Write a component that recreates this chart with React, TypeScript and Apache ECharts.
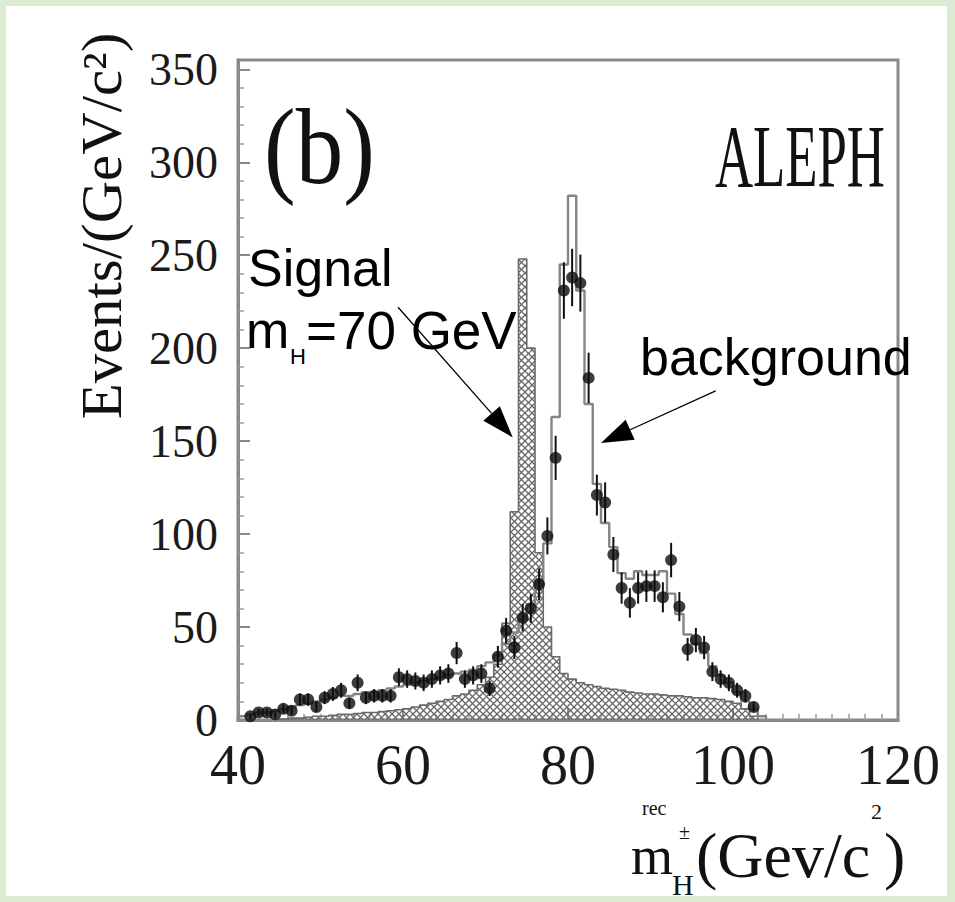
import React, { useEffect, useRef } from "react";
import * as echarts from "echarts";

// ---- histogram binning (GeV/c^2) ----
const BIN_WIDTH = 1;

// Simulated background, bins starting at 40 GeV/c^2
const backgroundStart = 40;
const backgroundCounts = [
  2, 3, 4, 4, 5, 6, 7, 8, 9, 10,
  11, 12, 13, 13, 14, 15, 15, 16, 17, 18,
  19, 20, 21, 22, 23, 24, 25, 26, 27, 29,
  31, 35, 41, 47, 54, 62, 75, 95, 163, 245,
  282, 231, 170, 127, 106, 93, 79, 76, 80, 78,
  78, 80, 68, 57, 46, 41, 36, 29, 24, 20,
  15, 10, 6, 2,
];

// Simulated charged Higgs signal (m_H = 70 GeV), bins starting at 45 GeV/c^2
const signalStart = 45;
const signalCounts = [
  0.5, 1, 1, 1.5, 2, 2, 2.5, 3, 3, 3.5,
  4, 4, 4.5, 5, 5.5, 6, 7, 8, 9, 10,
  11, 13, 14, 16, 19, 23, 30, 52, 112, 248,
  200, 90, 50, 34, 25, 22, 20, 19, 18, 17,
  16.5, 16, 15, 14.5, 14, 14, 13.5, 13, 13, 12.5,
  12, 12, 11.5, 11, 10, 9, 6, 2,
];

// Observed events, bin centres starting at 41.5 GeV/c^2
const dataStart = 41.5;
const dataCounts = [
  2, 4, 4, 3, 6, 5, 11, 11, 7, 12,
  14, 16, 9, 20, 12, 13, 13, 13, 23, 22,
  21, 20, 22, 24, 25, 36, 22, 24, 25, 17,
  34, 48, 39, 55, 60, 73, 99, 141, 231, 238,
  235, 184, 121, 117, 89, 71, 63, 71, 72, 72,
  66, 86, 61, 38, 43, 39, 26, 22, 20, 16,
  13, 7,
];

const xTicks = [40, 60, 80, 100, 120];
const yTicks = [0, 50, 100, 150, 200, 250, 300, 350];

const SERIF = "'Liberation Serif', 'DejaVu Serif', serif";
const SANS = "'Liberation Sans', Arial, sans-serif";

const HATCH_STEP = 7;
const HATCH_COLOR = "#666666";

// Histogram outline as a stepped polyline: [edge, value] pairs
function stepPoints(start: number, counts: number[]): number[][] {
  const pts: number[][] = [[start, 0]];
  counts.forEach((c, i) => pts.push([start + i * BIN_WIDTH, c]));
  pts.push([start + counts.length * BIN_WIDTH, 0]);
  return pts;
}

function hatchItem(params: any, api: any) {
  const lo = api.value(0);
  const v = api.value(1);
  const pBottom = api.coord([lo, 0]);
  const pTop = api.coord([lo + BIN_WIDTH, v]);
  const x0 = pBottom[0];
  const x1 = pTop[0];
  const y0 = pTop[1];
  const y1 = pBottom[1];
  const s = HATCH_STEP;
  const style = { stroke: HATCH_COLOR, lineWidth: 1.2 };
  const children: any[] = [];
  // lines falling to the right: y = x + c
  for (let c = Math.ceil((y0 - x1) / s) * s; c <= y1 - x0; c += s) {
    const xs = Math.max(x0, y0 - c);
    const xe = Math.min(x1, y1 - c);
    if (xe > xs) {
      children.push({
        type: "line",
        shape: { x1: xs, y1: xs + c, x2: xe, y2: xe + c },
        style,
      });
    }
  }
  // lines rising to the right: y = -x + c
  for (let c = Math.ceil((x0 + y0) / s) * s; c <= x1 + y1; c += s) {
    const xs = Math.max(x0, c - y1);
    const xe = Math.min(x1, c - y0);
    if (xe > xs) {
      children.push({
        type: "line",
        shape: { x1: xs, y1: c - xs, x2: xe, y2: c - xe },
        style,
      });
    }
  }
  return { type: "group", children };
}

function errorBarItem(params: any, api: any) {
  const x = api.value(0);
  const v = api.value(1);
  const err = Math.sqrt(v);
  const a = api.coord([x, v + err]);
  const b = api.coord([x, Math.max(0, v - err)]);
  return {
    type: "line",
    shape: { x1: a[0], y1: a[1], x2: b[0], y2: b[1] },
    style: { stroke: "#111", lineWidth: 2 },
  };
}

function arrow(tail: number[], tip: number[]) {
  const dx = tip[0] - tail[0];
  const dy = tip[1] - tail[1];
  const len = Math.hypot(dx, dy);
  const ux = dx / len;
  const uy = dy / len;
  const headLen = 32;
  const halfW = 11;
  const bx = tip[0] - ux * headLen;
  const by = tip[1] - uy * headLen;
  return [
    {
      type: "line",
      shape: { x1: tail[0], y1: tail[1], x2: bx, y2: by },
      style: { stroke: "#000", lineWidth: 1.3 },
      z: 20,
    },
    {
      type: "polygon",
      shape: {
        points: [
          [tip[0], tip[1]],
          [bx - uy * halfW, by + ux * halfW],
          [bx + uy * halfW, by - ux * halfW],
        ],
      },
      style: { fill: "#000" },
      z: 20,
    },
  ];
}

export default function App() {
  const ref = useRef<HTMLDivElement>(null);

  useEffect(() => {
    if (!ref.current) return;
    const chart = echarts.init(ref.current, undefined, { renderer: "svg" });

    const signalBins = signalCounts.map((c, i) => [signalStart + i * BIN_WIDTH, c]);
    const dataPoints = dataCounts.map((c, i) => [dataStart + i * BIN_WIDTH, c]);

    chart.setOption({
      animation: false,
      grid: {
        left: 238,
        top: 60,
        width: 660,
        height: 660,
        show: true,
        borderColor: "#8a8a8a",
        borderWidth: 3,
        backgroundColor: "transparent",
      },
      xAxis: {
        type: "value",
        min: 40,
        max: 120,
        interval: 20,
        axisLine: { show: true, lineStyle: { color: "#8a8a8a", width: 3 } },
        axisTick: { show: true, inside: true, length: 12, lineStyle: { color: "#8a8a8a", width: 2 } },
        minorTick: { show: true, splitNumber: 10, length: 6, lineStyle: { color: "#9a9a9a", width: 1.5 } },
        splitLine: { show: false },
        axisLabel: {
          fontFamily: SERIF,
          fontSize: 56,
          color: "#1a1a1a",
          margin: 17,
          formatter: (v: number) => (xTicks.includes(v) ? String(v) : ""),
        },
      },
      yAxis: {
        type: "value",
        min: 0,
        max: 355,
        interval: 50,
        axisLine: { show: true, lineStyle: { color: "#8a8a8a", width: 3 } },
        axisTick: { show: true, inside: true, length: 12, lineStyle: { color: "#8a8a8a", width: 2 } },
        minorTick: { show: true, splitNumber: 5, length: 6, lineStyle: { color: "#9a9a9a", width: 1.5 } },
        splitLine: { show: false },
        axisLabel: {
          fontFamily: SERIF,
          fontSize: 46,
          color: "#1a1a1a",
          margin: 20,
          formatter: (v: number) => (yTicks.includes(v) ? String(v) : ""),
        },
      },
      series: [
        {
          name: "signal hatch",
          type: "custom",
          renderItem: hatchItem,
          data: signalBins,
          encode: { x: 0, y: 1 },
          silent: true,
          z: 2,
        },
        {
          name: "signal",
          type: "line",
          step: "end",
          data: stepPoints(signalStart, signalCounts),
          symbol: "none",
          lineStyle: { color: "#6a6a6a", width: 1.6 },
          silent: true,
          z: 3,
        },
        {
          name: "background",
          type: "line",
          step: "end",
          data: stepPoints(backgroundStart, backgroundCounts),
          symbol: "none",
          lineStyle: { color: "#858585", width: 2.4 },
          silent: true,
          z: 4,
        },
        {
          name: "errors",
          type: "custom",
          renderItem: errorBarItem,
          data: dataPoints,
          encode: { x: 0, y: 1 },
          silent: true,
          z: 5,
        },
        {
          name: "data",
          type: "scatter",
          data: dataPoints,
          symbol: "circle",
          symbolSize: 12,
          itemStyle: { color: "#0d0d0d" },
          silent: true,
          z: 6,
        },
      ],
    });

    const px = (x: number, y: number) => chart.convertToPixel({ gridIndex: 0 }, [x, y]) as number[];

    chart.setOption({
      graphic: [
        // panel label and experiment
        {
          type: "text",
          x: 264,
          y: 146,
          style: { text: "(b)", font: `108px ${SERIF}`, fill: "#111", textVerticalAlign: "middle" },
          scaleX: 0.88,
        },
        {
          type: "text",
          x: 885,
          y: 156,
          style: { text: "ALEPH", font: `88px ${SERIF}`, fill: "#111", textAlign: "right", textVerticalAlign: "middle" },
          scaleX: 0.6,
        },
        // axis titles
        {
          type: "text",
          x: 102,
          y: 226,
          rotation: Math.PI / 2,
          style: {
            text: "Events/(GeV/c²)",
            font: `56px ${SERIF}`,
            fill: "#111",
            textAlign: "center",
            textVerticalAlign: "middle",
          },
          scaleX: 1.05,
        },
        {
          type: "text",
          x: 631,
          y: 856,
          style: { text: "m", font: `54px ${SERIF}`, fill: "#111", textVerticalAlign: "middle" },
        },
        {
          type: "text",
          x: 642,
          y: 808,
          style: { text: "rec", font: `20px ${SERIF}`, fill: "#111", textVerticalAlign: "middle" },
        },
        {
          type: "text",
          x: 672,
          y: 884,
          style: { text: "H", font: `30px ${SERIF}`, fill: "#111", textVerticalAlign: "middle" },
        },
        {
          type: "text",
          x: 679,
          y: 832,
          style: { text: "±", font: `20px ${SERIF}`, fill: "#111", textVerticalAlign: "middle" },
        },
        {
          type: "text",
          x: 696,
          y: 855,
          style: { text: "(Gev/c", font: `64px ${SERIF}`, fill: "#111", textVerticalAlign: "middle" },
        },
        {
          type: "text",
          x: 871,
          y: 811,
          style: { text: "2", font: `22px ${SERIF}`, fill: "#111", textVerticalAlign: "middle" },
        },
        {
          type: "text",
          x: 884,
          y: 855,
          style: { text: ")", font: `64px ${SERIF}`, fill: "#111", textVerticalAlign: "middle" },
        },
        // annotations
        {
          type: "text",
          x: 248,
          y: 268,
          style: { text: "Signal", font: `52px ${SANS}`, fill: "#000", textVerticalAlign: "middle" },
          z: 20,
        },
        {
          type: "text",
          x: 246,
          y: 330,
          style: { text: "m", font: `52px ${SANS}`, fill: "#000", textVerticalAlign: "middle" },
          z: 20,
        },
        {
          type: "text",
          x: 290,
          y: 356,
          style: { text: "H", font: `22px ${SANS}`, fill: "#000", textVerticalAlign: "middle" },
          z: 20,
        },
        {
          type: "text",
          x: 306,
          y: 330,
          style: { text: "=70 GeV", font: `53px ${SANS}`, fill: "#000", textVerticalAlign: "middle" },
          z: 20,
        },
        {
          type: "text",
          x: 640,
          y: 357,
          style: { text: "background", font: `52px ${SANS}`, fill: "#000", textVerticalAlign: "middle" },
          z: 20,
        },
        ...arrow(px(59.4, 222), px(73.3, 152)),
        ...arrow(px(97.9, 177), px(84.0, 149)),
      ],
    });

    return () => chart.dispose();
  }, []);

  return (
    <div style={{ position: "fixed", inset: 0, background: "#dcebd2" }}>
      <div
        style={{ position: "absolute", left: 6, top: 6, width: 941, height: 890, background: "#ffffff" }}
      />
      <div ref={ref} style={{ position: "absolute", left: 0, top: 0, width: 955, height: 902 }} />
    </div>
  );
}
